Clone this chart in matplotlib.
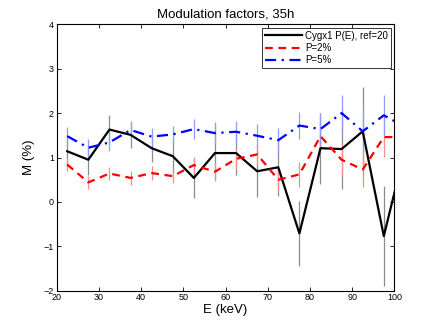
import numpy as np
import matplotlib
matplotlib.use('Agg')
import matplotlib.pyplot as plt

plt.rcParams['font.family'] = ['Liberation Sans', 'DejaVu Sans']

# energy bins (keV); the last one lies past the axis edge and is clipped
energy = [22.5, 27.5, 32.5, 37.5, 42.5, 47.5, 52.5, 57.5, 62.5, 67.5,
          72.5, 77.5, 82.5, 87.5, 92.5, 97.5, 102.5]

# Cygx1 P(E), ref=20
m_cyg = [1.14, 0.95, 1.63, 1.51, 1.21, 1.03, 0.54, 1.10, 1.10, 0.69,
         0.78, -0.71, 1.21, 1.19, 1.59, -0.77, 1.17]
e_cyg = [0.30, 0.34, 0.33, 0.29, 0.30, 0.40, 0.45, 0.60, 0.50, 0.58,
         0.65, 0.73, 0.80, 0.90, 1.00, 1.12, 1.10]

# P=2%
m_p2 = [0.84, 0.44, 0.64, 0.54, 0.65, 0.58, 0.83, 0.68, 0.97, 1.07,
        0.50, 0.62, 1.48, 0.95, 0.73, 1.46, 1.46]
e_p2 = [0.14, 0.15, 0.15, 0.15, 0.15, 0.16, 0.18, 0.20, 0.22, 0.24,
        0.26, 0.28, 0.30, 0.37, 0.40, 0.45, 0.45]

# P=5%
m_p5 = [1.48, 1.22, 1.34, 1.62, 1.47, 1.52, 1.64, 1.55, 1.58, 1.49,
        1.39, 1.72, 1.64, 2.00, 1.59, 1.95, 1.69]
e_p5 = [0.20, 0.20, 0.20, 0.20, 0.20, 0.20, 0.22, 0.24, 0.25, 0.26,
        0.28, 0.30, 0.37, 0.40, 0.45, 0.45, 0.45]

fig = plt.figure(figsize=(4.36, 3.28), dpi=100)
ax = fig.add_axes([0.13, 0.1137, 0.7745, 0.8122])

# error bars (light, no caps) underneath the curves
ax.errorbar(energy, m_cyg, yerr=e_cyg, fmt='none', ecolor='#8c8c8c', elinewidth=0.9, capsize=0, zorder=1)
ax.errorbar(energy, m_p2, yerr=e_p2, fmt='none', ecolor='#ff8c8c', elinewidth=0.9, capsize=0, zorder=1)
ax.errorbar(energy, m_p5, yerr=e_p5, fmt='none', ecolor='#8c9cff', elinewidth=0.9, capsize=0, zorder=1)

ax.plot(energy, m_cyg, '-', color='black', linewidth=1.6, label='Cygx1 P(E), ref=20', zorder=3)
ax.plot(energy, m_p2, '--', color='red', linewidth=1.6, dashes=(3.5, 2.5), label='P=2%', zorder=3)
ax.plot(energy, m_p5, '-.', color='blue', linewidth=1.6, dashes=(5, 2.5, 1, 2.5), label='P=5%', zorder=3)

ax.set_xlim(20, 100)
ax.set_ylim(-2, 4)
ax.set_xticks(np.arange(20, 101, 10))
ax.set_yticks(np.arange(-2, 5, 1))
ax.tick_params(direction='in', top=True, right=True, length=3, width=0.6,
               labelsize=6.5, pad=2)
for s in ax.spines.values():
    s.set_linewidth(0.8)

ax.set_xlabel('E (keV)', fontsize=9.5, labelpad=1)
ax.set_ylabel('M (%)', fontsize=9.5, labelpad=6)
ax.set_title('Modulation factors, 35h', fontsize=9.5, pad=5)

leg = ax.legend(loc='upper right', fontsize=7, frameon=True, fancybox=False,
                borderaxespad=0.35, handlelength=3.8, handletextpad=0.3,
                labelspacing=0.25, borderpad=0.3)
leg.get_frame().set_edgecolor('black')
leg.get_frame().set_linewidth(0.7)

fig.savefig('out.png', dpi=100)
